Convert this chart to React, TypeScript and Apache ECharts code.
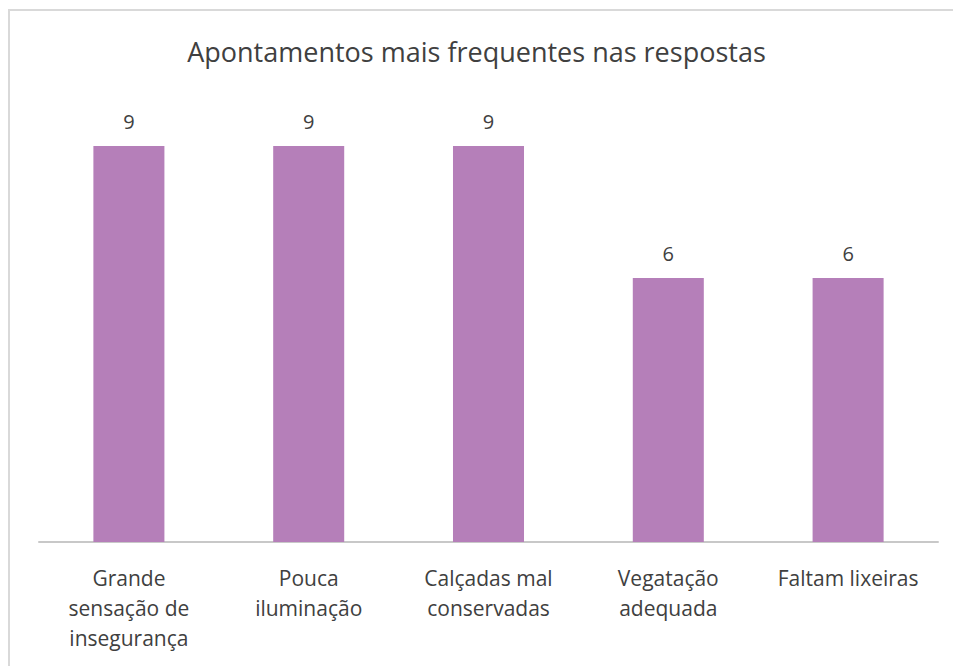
import React, { useEffect, useRef } from "react";
import * as echarts from "echarts";

const categories = [
  "Grande\nsensação de\ninsegurança",
  "Pouca\niluminação",
  "Calçadas mal\nconservadas",
  "Vegatação\nadequada",
  "Faltam lixeiras",
];
const values = [9, 9, 9, 6, 6];
const titleText = "Apontamentos mais frequentes nas respostas";

export default function App() {
  const ref = useRef<HTMLDivElement>(null);
  useEffect(() => {
    if (!ref.current) return;
    const chart = echarts.init(ref.current, undefined, { renderer: "svg" });
    const font = "'Open Sans', 'Noto Sans', sans-serif";
    chart.setOption({
      animation: false,
      backgroundColor: "#ffffff",
      title: {
        text: titleText,
        left: "center",
        top: 33,
        textStyle: { fontFamily: font, fontSize: 27, fontWeight: "normal", color: "#404040" },
      },
      graphic: [
        {
          type: "rect",
          shape: { x: 9, y: 10, width: 1000, height: 700 },
          style: { fill: "none", stroke: "#d9d9d9", lineWidth: 2 },
          silent: true,
        },
      ],
      grid: { left: 39, right: 15, top: 102, bottom: 124 },
      xAxis: {
        type: "category",
        data: categories,
        axisLine: { lineStyle: { color: "#c8c8c8", width: 2 } },
        axisTick: { show: false },
        axisLabel: {
          fontFamily: font,
          fontSize: 21,
          color: "#404040",
          lineHeight: 30,
          margin: 21,
          interval: 0,
        },
      },
      yAxis: {
        type: "value",
        min: 0,
        max: 10,
        show: false,
        splitLine: { show: false },
      },
      series: [
        {
          type: "bar",
          data: values,
          barWidth: "39.5%",
          itemStyle: { color: "#b57fb9" },
          label: {
            show: true,
            position: "top",
            distance: 15,
            fontFamily: font,
            fontSize: 20,
            color: "#404040",
          },
        },
      ],
    });
    return () => chart.dispose();
  }, []);
  return (
    <div
      ref={ref}
      style={{ position: "fixed", left: 0, top: 0, width: 953, height: 666 }}
    />
  );
}
